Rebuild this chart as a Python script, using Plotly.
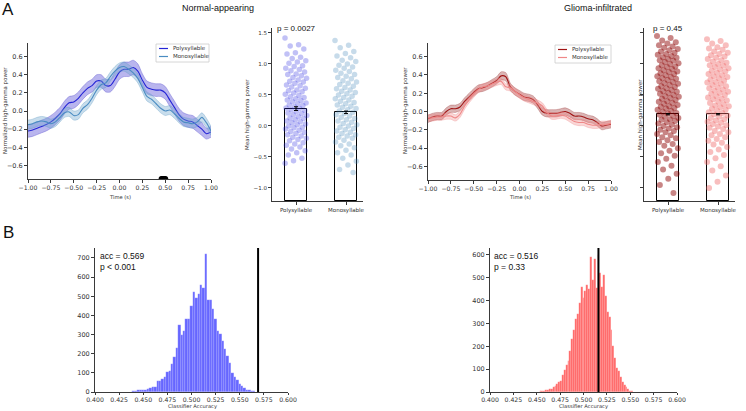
import plotly.graph_objects as go

W, H = 746, 411

# ---------------- data ----------------
time_s = [-1.00, -0.95, -0.90, -0.85, -0.80, -0.75, -0.70, -0.65, -0.60, -0.55, -0.50,
          -0.45, -0.40, -0.35, -0.30, -0.25, -0.20, -0.15, -0.10, -0.05, 0.00,
          0.05, 0.10, 0.15, 0.20, 0.25, 0.30, 0.35, 0.40, 0.45, 0.50,
          0.55, 0.60, 0.65, 0.70, 0.75, 0.80, 0.85, 0.90, 0.95, 1.00]

normal_poly_mean = [-0.22, -0.21, -0.19, -0.17, -0.15, -0.12, -0.08, -0.03, 0.04, 0.09, 0.10,
                    0.14, 0.20, 0.25, 0.28, 0.33, 0.33, 0.28, 0.28, 0.35, 0.43,
                    0.46, 0.46, 0.48, 0.44, 0.34, 0.26, 0.24, 0.23, 0.23, 0.20,
                    0.12, 0.04, -0.04, -0.09, -0.11, -0.12, -0.16, -0.20, -0.25, -0.23]
normal_poly_se = [0.07, 0.07, 0.07, 0.07, 0.07, 0.07, 0.07, 0.07, 0.07, 0.07, 0.07,
                  0.07, 0.07, 0.07, 0.07, 0.07, 0.07, 0.07, 0.07, 0.08, 0.08,
                  0.08, 0.08, 0.08, 0.08, 0.07, 0.07, 0.07, 0.07, 0.07, 0.07,
                  0.07, 0.07, 0.07, 0.07, 0.07, 0.07, 0.07, 0.07, 0.06, 0.06]
normal_mono_mean = [-0.15, -0.14, -0.12, -0.11, -0.12, -0.14, -0.12, -0.07, -0.02, -0.01, -0.05,
                    -0.04, 0.03, 0.07, 0.14, 0.23, 0.29, 0.31, 0.38, 0.44, 0.48,
                    0.49, 0.46, 0.42, 0.36, 0.26, 0.16, 0.13, 0.08, 0.03, 0.00,
                    0.01, -0.03, -0.08, -0.12, -0.13, -0.14, -0.12, -0.07, -0.13, -0.22]
normal_mono_se = [0.05, 0.05, 0.05, 0.05, 0.05, 0.05, 0.05, 0.05, 0.05, 0.05, 0.05,
                  0.05, 0.05, 0.05, 0.05, 0.05, 0.05, 0.05, 0.05, 0.05, 0.05,
                  0.05, 0.05, 0.05, 0.05, 0.05, 0.05, 0.05, 0.05, 0.05, 0.05,
                  0.05, 0.05, 0.05, 0.05, 0.05, 0.05, 0.05, 0.05, 0.05, 0.05]

glioma_poly_mean = [-0.08, -0.06, -0.05, -0.05, 0.00, 0.03, 0.03, 0.05, 0.11, 0.16, 0.21,
                    0.25, 0.26, 0.28, 0.31, 0.34, 0.39, 0.38, 0.27, 0.22, 0.19,
                    0.16, 0.15, 0.13, 0.07, 0.00, -0.02, -0.02, -0.02, -0.01, 0.00,
                    -0.02, -0.05, -0.05, -0.06, -0.08, -0.09, -0.12, -0.16, -0.15, -0.14]
glioma_poly_se = [0.04, 0.04, 0.04, 0.04, 0.04, 0.04, 0.04, 0.04, 0.04, 0.04, 0.04,
                  0.04, 0.04, 0.04, 0.04, 0.04, 0.045, 0.045, 0.04, 0.04, 0.04,
                  0.04, 0.04, 0.04, 0.04, 0.04, 0.04, 0.04, 0.04, 0.04, 0.04,
                  0.04, 0.04, 0.04, 0.04, 0.04, 0.04, 0.04, 0.04, 0.04, 0.04]
glioma_mono_mean = [-0.07, -0.07, -0.06, -0.06, -0.05, -0.05, -0.07, -0.03, 0.06, 0.13, 0.19,
                    0.24, 0.27, 0.28, 0.30, 0.32, 0.33, 0.27, 0.26, 0.22, 0.18,
                    0.15, 0.13, 0.11, 0.09, 0.06, -0.01, -0.05, -0.05, -0.04, -0.05,
                    -0.08, -0.11, -0.12, -0.12, -0.14, -0.15, -0.15, -0.14, -0.14, -0.13]
glioma_mono_se = [0.035, 0.035, 0.035, 0.035, 0.035, 0.035, 0.035, 0.035, 0.035, 0.035, 0.035,
                  0.035, 0.035, 0.035, 0.035, 0.035, 0.035, 0.035, 0.035, 0.035, 0.035,
                  0.035, 0.035, 0.035, 0.035, 0.035, 0.035, 0.035, 0.035, 0.035, 0.035,
                  0.035, 0.035, 0.035, 0.035, 0.035, 0.035, 0.035, 0.035, 0.035, 0.035]

sig_times = [0.46, 0.47, 0.48, 0.49, 0.50]

categories = ["Polysyllable", "Monosyllable"]
normal_bar_means = [0.28, 0.22]
normal_bar_err = [0.03, 0.02]
glioma_bar_means = [0.19, 0.19]
glioma_bar_err = [0.01, 0.01]
normal_p = "p = 0.0027"
glioma_p = "p = 0.45"

normal_poly_pts = [1.42, 1.31, 1.29, 1.24, 1.18, 1.16, 1.11, 1.09, 1.05, 1.03, 1.01, 0.97, 0.96, 0.93,
                   0.91, 0.89, 0.87, 0.84, 0.83, 0.81, 0.78, 0.77, 0.74, 0.72, 0.71, 0.69, 0.66, 0.65,
                   0.63, 0.61, 0.58, 0.57, 0.55, 0.53, 0.51, 0.49, 0.47, 0.46, 0.44, 0.42, 0.41, 0.39,
                   0.37, 0.36, 0.34, 0.33, 0.31, 0.29, 0.28, 0.26, 0.25, 0.23, 0.21, 0.20, 0.18, 0.17,
                   0.15, 0.13, 0.12, 0.10, 0.08, 0.07, 0.05, 0.03, 0.02, 0.00, -0.02, -0.03, -0.05,
                   -0.07, -0.09, -0.10, -0.12, -0.14, -0.16, -0.18, -0.20, -0.22, -0.24, -0.27, -0.29,
                   -0.31, -0.34, -0.37, -0.40, -0.43, -0.47, -0.52, -0.56, -0.60]
normal_mono_pts = [1.38, 1.30, 1.26, 1.20, 1.17, 1.13, 1.10, 1.06, 1.04, 1.00, 0.98, 0.95, 0.93, 0.90,
                   0.88, 0.85, 0.83, 0.80, 0.78, 0.76, 0.73, 0.71, 0.69, 0.67, 0.64, 0.62, 0.60, 0.58,
                   0.56, 0.54, 0.52, 0.50, 0.48, 0.46, 0.44, 0.42, 0.40, 0.38, 0.36, 0.34, 0.32, 0.30,
                   0.28, 0.26, 0.24, 0.22, 0.20, 0.18, 0.16, 0.14, 0.12, 0.10, 0.08, 0.06, 0.04, 0.02,
                   0.00, -0.02, -0.04, -0.06, -0.08, -0.10, -0.12, -0.14, -0.16, -0.18, -0.20, -0.23,
                   -0.26, -0.29, -0.32, -0.35, -0.39, -0.43, -0.47, -0.52, -0.57, -0.63, -0.70, -0.75]
glioma_poly_pts = [1.45, 1.42, 1.38, 1.35, 1.33, 1.30, 1.28, 1.26, 1.24, 1.22, 1.20, 1.18, 1.16, 1.15,
                   1.13, 1.11, 1.10, 1.08, 1.06, 1.05, 1.03, 1.01, 1.00, 0.98, 0.96, 0.95, 0.93, 0.92,
                   0.90, 0.88, 0.87, 0.85, 0.84, 0.82, 0.80, 0.79, 0.77, 0.76, 0.74, 0.72, 0.71, 0.69,
                   0.68, 0.66, 0.64, 0.63, 0.61, 0.60, 0.58, 0.56, 0.55, 0.53, 0.52, 0.50, 0.48, 0.47,
                   0.45, 0.44, 0.42, 0.40, 0.39, 0.37, 0.36, 0.34, 0.32, 0.31, 0.29, 0.28, 0.26, 0.24,
                   0.23, 0.21, 0.20, 0.18, 0.16, 0.15, 0.13, 0.11, 0.10, 0.08, 0.06, 0.04, 0.02, 0.00,
                   -0.02, -0.04, -0.06, -0.08, -0.10, -0.13, -0.15, -0.18, -0.20, -0.23, -0.26, -0.29,
                   -0.32, -0.36, -0.40, -0.44, -0.48, -0.53, -0.58, -0.64, -0.70, -0.77, -0.85, -0.95,
                   -1.08]
glioma_mono_pts = [1.40, 1.37, 1.33, 1.30, 1.27, 1.25, 1.23, 1.20, 1.18, 1.16, 1.14, 1.12, 1.10, 1.08,
                   1.06, 1.04, 1.02, 1.00, 0.98, 0.97, 0.95, 0.93, 0.91, 0.89, 0.88, 0.86, 0.84, 0.82,
                   0.80, 0.79, 0.77, 0.75, 0.73, 0.71, 0.70, 0.68, 0.66, 0.64, 0.62, 0.61, 0.59, 0.57,
                   0.55, 0.53, 0.52, 0.50, 0.48, 0.46, 0.44, 0.43, 0.41, 0.39, 0.37, 0.35, 0.33, 0.32,
                   0.30, 0.28, 0.26, 0.24, 0.22, 0.21, 0.19, 0.17, 0.15, 0.13, 0.11, 0.09, 0.07, 0.05,
                   0.03, 0.01, -0.01, -0.03, -0.05, -0.08, -0.10, -0.13, -0.15, -0.18, -0.21, -0.24,
                   -0.27, -0.30, -0.34, -0.38, -0.42, -0.47, -0.52, -0.58, -0.65, -0.72, -0.80, -0.90,
                   -1.00]

blue_bins = [0.4400, 0.4425, 0.4450, 0.4475, 0.4500, 0.4525, 0.4550, 0.4575, 0.4600, 0.4625,
             0.4650, 0.4675, 0.4700, 0.4725, 0.4750, 0.4775, 0.4800, 0.4825, 0.4850, 0.4875,
             0.4900, 0.4925, 0.4950, 0.4975, 0.5000, 0.5025, 0.5050, 0.5075, 0.5100, 0.5125,
             0.5150, 0.5175, 0.5200, 0.5225, 0.5250, 0.5275, 0.5300, 0.5325, 0.5350, 0.5375,
             0.5400, 0.5425, 0.5450, 0.5475, 0.5500, 0.5525, 0.5550, 0.5575, 0.5600, 0.5625, 0.5650]
blue_counts = [3, 5, 8, 8, 10, 12, 15, 22, 28, 25, 58, 55, 68, 80, 105, 110, 145, 185, 230, 350,
               300, 320, 380, 380, 450, 520, 490, 510, 560, 545, 720, 480, 480, 435, 380, 320,
               305, 265, 225, 190, 150, 100, 80, 65, 40, 30, 20, 12, 8, 6, 3]
blue_acc = 0.569
blue_text = ["acc = 0.569", "p < 0.001"]

red_bins = [0.452, 0.454, 0.456, 0.458, 0.460, 0.462, 0.464, 0.466, 0.468, 0.470,
            0.472, 0.474, 0.476, 0.478, 0.480, 0.482, 0.484, 0.486, 0.488, 0.490,
            0.492, 0.494, 0.496, 0.498, 0.500, 0.502, 0.504, 0.506, 0.508, 0.510,
            0.512, 0.514, 0.516, 0.518, 0.520, 0.522, 0.524, 0.526, 0.528, 0.530,
            0.532, 0.534, 0.536, 0.538, 0.540, 0.542, 0.544, 0.546, 0.548, 0.550, 0.552]
red_counts = [2, 3, 3, 5, 8, 8, 12, 15, 20, 28, 35, 45, 48, 75, 95, 120, 135, 180, 230, 270,
              320, 340, 390, 460, 410, 440, 470, 450, 590, 490, 580, 455, 600, 520, 460, 510,
              420, 350, 330, 270, 200, 150, 105, 90, 65, 45, 30, 20, 12, 5, 3]
red_acc = 0.516
red_text = ["acc = 0.516", "p = 0.33"]

hist_xticks = [0.400, 0.425, 0.450, 0.475, 0.500, 0.525, 0.550, 0.575, 0.600]

# ---------------- helpers ----------------
def xd(a, b):
    return [a / W, b / W]

def yd(top, bot):
    return [1 - bot / H, 1 - top / H]

def px(x):
    return x / W

def py(y):
    return 1 - y / H

DJ = "DejaVu Sans"
AR = "Liberation Sans, Arial, sans-serif"
AX = "#3a3a3a"

fig = go.Figure()


def add_band(xa, ya, mean, se, fill_color, edge_color):
    upper = [m + s for m, s in zip(mean, se)]
    lower = [m - s for m, s in zip(mean, se)]
    fig.add_trace(go.Scatter(x=time_s, y=upper, mode="lines", xaxis=xa, yaxis=ya,
                             line=dict(width=0.6, color=edge_color, shape="spline", smoothing=0.8),
                             showlegend=False, hoverinfo="skip"))
    fig.add_trace(go.Scatter(x=time_s, y=lower, mode="lines", xaxis=xa, yaxis=ya, fill="tonexty",
                             fillcolor=fill_color,
                             line=dict(width=0.6, color=edge_color, shape="spline", smoothing=0.8),
                             showlegend=False, hoverinfo="skip"))


def add_line(xa, ya, mean, line_color):
    fig.add_trace(go.Scatter(x=time_s, y=mean, mode="lines", xaxis=xa, yaxis=ya,
                             line=dict(width=1.1, color=line_color, shape="spline", smoothing=0.8),
                             showlegend=False))


# top-left line panel
add_band("x", "y", normal_poly_mean, normal_poly_se, "rgba(70,60,210,0.38)", "rgba(70,60,200,0.55)")
add_line("x", "y", normal_poly_mean, "#2424d6")
add_band("x", "y", normal_mono_mean, normal_mono_se, "rgba(110,165,205,0.38)", "rgba(90,150,195,0.55)")
add_line("x", "y", normal_mono_mean, "#4a8cc2")
fig.add_trace(go.Scatter(x=sig_times, y=[-0.75] * len(sig_times), mode="markers", xaxis="x", yaxis="y",
                         marker=dict(color="black", size=6), showlegend=False))

# top-right line panel
add_band("x3", "y3", glioma_poly_mean, glioma_poly_se, "rgba(150,40,40,0.35)", "rgba(150,40,40,0.5)")
add_line("x3", "y3", glioma_poly_mean, "#a01414")
add_band("x3", "y3", glioma_mono_mean, glioma_mono_se, "rgba(240,140,140,0.35)", "rgba(235,130,130,0.5)")
add_line("x3", "y3", glioma_mono_mean, "#ef8888")


def jitter(n, spread=0.44):
    return [((i * 0.6180339887) % 1.0 - 0.5) * spread for i in range(n)]


def add_strip(xa, ya, means, errs, pts_list, colors, base, size):
    fig.add_trace(go.Bar(x=[0, 1], y=[m - base for m in means], base=base, width=0.45,
                         xaxis=xa, yaxis=ya, marker=dict(color="rgba(255,255,255,0)",
                                                          line=dict(color="black", width=1)),
                         showlegend=False))
    for k, (pts, col) in enumerate(zip(pts_list, colors)):
        jx = jitter(len(pts))
        fig.add_trace(go.Scatter(x=[k + j for j in jx], y=pts, mode="markers", xaxis=xa, yaxis=ya,
                                 marker=dict(color=col, size=size, line=dict(width=0)), showlegend=False))
    fig.add_trace(go.Scatter(x=[0, 1], y=means, mode="markers", xaxis=xa, yaxis=ya,
                             marker=dict(size=1, color="rgba(0,0,0,0)"),
                             error_y=dict(type="data", array=errs, color="black", thickness=1, width=2),
                             showlegend=False))


Y2MIN, Y2MAX = -1.21, 1.58
add_strip("x2", "y2", normal_bar_means, normal_bar_err, [normal_poly_pts, normal_mono_pts],
          ["rgba(50,50,225,0.3)", "rgba(70,135,185,0.3)"], Y2MIN, 5.5)
add_strip("x4", "y4", glioma_bar_means, glioma_bar_err, [glioma_poly_pts, glioma_mono_pts],
          ["rgba(140,0,0,0.48)", "rgba(240,110,110,0.45)"], Y2MIN, 6)

# histograms
fig.add_trace(go.Bar(x=blue_bins, y=blue_counts, width=0.0025, xaxis="x5", yaxis="y5",
                     marker=dict(color="rgba(0,0,255,0.6)", line=dict(color="rgba(255,255,255,0.4)", width=0.4)),
                     showlegend=False))
fig.add_trace(go.Bar(x=red_bins, y=red_counts, width=0.002, xaxis="x6", yaxis="y6",
                     marker=dict(color="rgba(255,0,0,0.6)", line=dict(color="rgba(255,255,255,0.4)", width=0.4)),
                     showlegend=False))

shapes = [
    dict(type="line", xref="x5", yref="y5 domain", x0=blue_acc, x1=blue_acc, y0=0, y1=1,
         line=dict(color="black", width=2)),
    dict(type="line", xref="x6", yref="y6 domain", x0=red_acc, x1=red_acc, y0=0, y1=1,
         line=dict(color="black", width=2)),
]
annotations = []


def ann(x, y, text, size, family=AR, xanchor="center", yanchor="middle", angle=0, color="#111"):
    annotations.append(dict(x=px(x), y=py(y), xref="paper", yref="paper", text=text, showarrow=False,
                            xanchor=xanchor, yanchor=yanchor, textangle=angle,
                            font=dict(family=family, size=size, color=color)))


def legend_box(x0, y0, x1, y1, items):
    shapes.append(dict(type="rect", xref="paper", yref="paper", x0=px(x0), x1=px(x1), y0=py(y1), y1=py(y0),
                       line=dict(color="#cccccc", width=0.8), fillcolor="rgba(255,255,255,0.8)"))
    for i, (label, col) in enumerate(items):
        yy = y0 + 4.5 + i * 8
        shapes.append(dict(type="line", xref="paper", yref="paper", x0=px(x0 + 3), x1=px(x0 + 12),
                           y0=py(yy), y1=py(yy), line=dict(color=col, width=1.2)))
        ann(x0 + 15, yy, label, 5.5, DJ, xanchor="left", color="#333")


legend_box(156, 44, 209, 62, [("Polysyllable", "#2424d6"), ("Monosyllable", "#4a8cc2")])
legend_box(555, 45, 611, 63, [("Polysyllable", "#a01414"), ("Monosyllable", "#ef8888")])

ann(8, 10, "A", 17)
ann(8, 232, "B", 17)
ann(218, 8, "Normal-appearing", 9)
ann(598, 8, "Glioma-infiltrated", 9)
ann(5, 111, "Normalized high-gamma power", 5.5, DJ, angle=-90, color="#333")
ann(405, 111, "Normalized high-gamma power", 5.5, DJ, angle=-90, color="#333")
ann(120, 196.5, "Time (s)", 5.2, DJ, color="#333")
ann(520, 196.5, "Time (s)", 5.2, DJ, color="#333")
ann(247, 115, "Mean high-gamma power", 5.5, DJ, angle=-90, color="#333")
ann(640, 115, "Mean high-gamma power", 5.5, DJ, angle=-90, color="#333")
ann(275, 28, normal_p, 8, xanchor="left")
ann(651, 28, glioma_p, 8, xanchor="left")
ann(98, 256, blue_text[0], 8.5, xanchor="left")
ann(98, 267, blue_text[1], 8.5, xanchor="left")
ann(492, 256, red_text[0], 8.5, xanchor="left")
ann(492, 267, red_text[1], 8.5, xanchor="left")
ann(192, 406.5, "Classifier Accuracy", 5.2, DJ, color="#333")
ann(583, 406.5, "Classifier Accuracy", 5.2, DJ, color="#333")

base_axis = dict(showgrid=False, zeroline=False, showline=True, linecolor=AX, linewidth=1,
                 ticks="outside", ticklen=3, tickwidth=0.8, tickcolor=AX, automargin=False)
TF = dict(family=DJ, size=6.5, color="#333")
TFT = dict(family=DJ, size=6.2, color="#333")
TFH = dict(family=DJ, size=6.2, color="#333")
TFS = dict(family=DJ, size=5.5, color="#333")

fig.update_layout(
    template="none",
    width=W, height=H, margin=dict(l=0, r=0, t=0, b=0, pad=0),
    paper_bgcolor="white", plot_bgcolor="rgba(0,0,0,0)",
    showlegend=False, barmode="overlay", bargap=0,
    shapes=shapes, annotations=annotations,
    xaxis=dict(base_axis, domain=xd(28, 211), range=[-1, 1], anchor="y", ticklen=2.5,
               tickvals=[-1, -0.75, -0.5, -0.25, 0, 0.25, 0.5, 0.75, 1], tickformat=".2f", tickfont=TFT),
    yaxis=dict(base_axis, domain=yd(43, 179), range=[-0.75, 0.75], anchor="x",
               tickvals=[-0.6, -0.4, -0.2, 0, 0.2, 0.4, 0.6], tickformat=".1f", tickfont=TF),
    xaxis3=dict(base_axis, domain=xd(428, 611), range=[-1, 1], anchor="y3", ticklen=2.5,
                tickvals=[-1, -0.75, -0.5, -0.25, 0, 0.25, 0.5, 0.75, 1], tickformat=".2f", tickfont=TFT),
    yaxis3=dict(base_axis, domain=yd(43, 180), range=[-0.75, 0.75], anchor="x3",
                tickvals=[-0.6, -0.4, -0.2, 0, 0.2, 0.4, 0.6], tickformat=".1f", tickfont=TF),
    xaxis2=dict(base_axis, domain=xd(272, 363), range=[-0.48, 1.34], anchor="y2",
                tickvals=[0, 1], ticktext=categories, tickfont=TFS),
    yaxis2=dict(base_axis, domain=yd(28, 201), range=[Y2MIN, Y2MAX], anchor="x2",
                tickvals=[-1, -0.5, 0, 0.5, 1, 1.5], tickformat=".1f", tickfont=TFS),
    xaxis4=dict(base_axis, domain=xd(644, 735), range=[-0.48, 1.34], anchor="y4",
                tickvals=[0, 1], ticktext=categories, tickfont=TFS),
    yaxis4=dict(base_axis, domain=yd(28, 201), range=[Y2MIN, Y2MAX], anchor="x4",
                tickvals=[-1, -0.5, 0, 0.5, 1, 1.5], showticklabels=False),
    xaxis5=dict(base_axis, domain=xd(95, 288), range=[0.4, 0.6], anchor="y5", ticklen=2,
                tickvals=hist_xticks, tickformat=".3f", tickfont=TFH),
    yaxis5=dict(base_axis, domain=yd(248, 392), range=[0, 752], anchor="x5",
                tickvals=[0, 100, 200, 300, 400, 500, 600, 700], tickfont=TF),
    xaxis6=dict(base_axis, domain=xd(490, 677), range=[0.4, 0.6], anchor="y6", ticklen=2,
                tickvals=hist_xticks, tickformat=".3f", tickfont=TFH),
    yaxis6=dict(base_axis, domain=yd(248, 392), range=[0, 630], anchor="x6",
                tickvals=[0, 100, 200, 300, 400, 500, 600], tickfont=TF),
)

fig.write_html("out.html", config={"displayModeBar": False},
               post_script="document.body.style.margin='0';document.body.style.overflow='hidden';")
